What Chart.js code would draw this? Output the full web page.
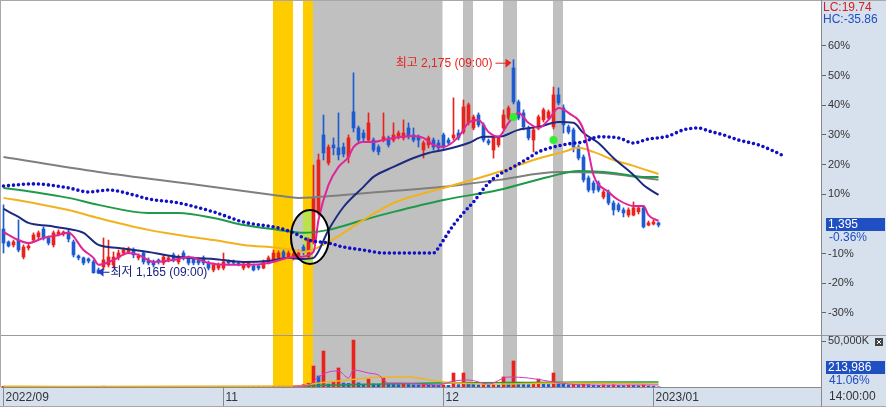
<!DOCTYPE html>
<html lang="ko">
<head>
<meta charset="UTF-8">
<title>일봉 차트</title>
<script src="https://cdn.jsdelivr.net/npm/chart.js"></script>
<style>
  html, body { margin: 0; padding: 0; background: #fff; }
  #wrap { width: 886px; height: 407px; }
</style>
</head>
<body>
<div id="wrap"><canvas id="chart" width="886" height="407"></canvas></div>
<script>
// ---- data (prices in KRW, volume in thousand shares) ----
const basePrice = 1400;
const openP  = [1376,1315,1301,1324,1244,1287,1324,1339,1376,1334,1301,1353,1353,1362,1315,1249,1240,1235,1221,1183,1197,1207,1207,1240,1263,1268,1277,1240,1263,1230,1221,1230,1216,1230,1254,1221,1263,1240,1235,1235,1240,1216,1183,1192,1192,1225,1221,1216,1192,1197,1202,1202,1192,1221,1230,1240,1268,1244,1240,1249,1291,1244,1315,1452,1820,1688,1773,1759,1763,1716,1929,1853,1829,1796,1796,1763,1796,1806,1796,1811,1806,1853,1820,1811,1749,1773,1796,1782,1820,1796,1806,1829,1834,1877,1853,1914,1867,1792,1749,1773,1853,1900,2136,1976,1924,1853,1796,1853,1891,1900,1858,2009,1947,1858,1844,1763,1716,1617,1593,1593,1527,1551,1499,1490,1466,1442,1442,1457,1476,1395,1400,1405];
const highP  = [1490,1320,1324,1419,1301,1305,1358,1367,1386,1343,1367,1372,1367,1372,1324,1254,1244,1240,1230,1192,1334,1324,1268,1277,1287,1291,1287,1259,1273,1240,1230,1235,1254,1249,1263,1254,1273,1249,1244,1240,1249,1225,1216,1216,1263,1230,1230,1221,1221,1221,1211,1207,1230,1249,1277,1273,1277,1273,1268,1277,1301,1334,1678,1730,1914,1773,1806,1924,1782,1820,2113,1862,1844,1924,1806,1773,1924,1815,1877,1839,1891,1877,1853,1820,1792,1815,1806,1796,1829,1806,1995,1844,1985,1971,1914,1924,1877,1801,1815,1815,1938,1957,2175,1985,1938,1862,1853,1914,1947,1938,2046,2042,1962,1867,1853,1773,1726,1627,1603,1603,1560,1560,1509,1499,1476,1476,1504,1485,1485,1414,1419,1409];
const lowP   = [1263,1291,1291,1268,1235,1277,1315,1329,1324,1301,1291,1343,1343,1315,1244,1230,1207,1216,1167,1165,1183,1197,1192,1230,1254,1259,1240,1230,1211,1207,1197,1211,1207,1221,1221,1211,1230,1207,1207,1207,1207,1183,1174,1183,1183,1207,1207,1202,1183,1192,1178,1183,1188,1211,1221,1230,1235,1240,1230,1240,1254,1240,1305,1442,1702,1678,1726,1702,1716,1688,1834,1787,1787,1787,1740,1726,1787,1763,1787,1801,1796,1801,1787,1763,1711,1759,1749,1749,1754,1773,1796,1796,1825,1867,1844,1858,1787,1773,1711,1763,1844,1891,1966,1891,1844,1796,1740,1844,1881,1891,1848,1962,1829,1825,1740,1702,1598,1551,1546,1551,1518,1490,1442,1457,1433,1433,1438,1447,1381,1391,1395,1386];
const closeP = [1310,1296,1315,1277,1291,1296,1348,1358,1334,1310,1358,1362,1362,1329,1254,1240,1216,1225,1170,1168,1230,1244,1244,1263,1277,1282,1254,1249,1221,1216,1207,1221,1244,1240,1230,1244,1240,1216,1216,1216,1216,1192,1207,1207,1221,1216,1216,1211,1211,1216,1183,1192,1221,1240,1263,1263,1244,1263,1258,1263,1268,1324,1527,1702,1735,1763,1759,1726,1730,1806,1853,1796,1806,1877,1749,1740,1811,1773,1820,1829,1829,1811,1796,1796,1782,1806,1763,1759,1763,1782,1820,1806,1952,1962,1905,1867,1796,1782,1806,1806,1914,1947,1976,1900,1858,1806,1844,1905,1938,1929,2009,1971,1867,1834,1763,1711,1608,1560,1560,1560,1551,1499,1466,1466,1452,1466,1476,1476,1386,1405,1409,1395];
const lastVolume = 213986;
const volK = [820,640,510,700,560,430,620,480,390,450,560,380,340,410,690,520,470,380,760,640,880,720,540,460,420,380,450,360,480,390,350,310,420,360,380,400,330,350,300,320,340,410,380,360,470,300,280,260,330,290,340,300,360,420,650,580,520,610,1200,1500,2600,4100,22800,12000,39100,3200,5400,20700,4300,3900,51000,4500,3100,8700,3300,2900,9800,3400,2800,2600,3000,2700,2400,2200,2600,2300,2100,1900,2000,1800,15200,2600,15200,4200,3100,2500,2800,2000,2600,2100,10900,3600,28300,5200,3300,2700,3600,8700,3100,2800,15200,4800,3900,2500,3000,2200,3400,2600,2000,1800,2300,1900,2400,1700,1600,2000,1800,1500,2200,1200,900,lastVolume / 1000];

// moving averages (index, price)
const ma5Idx = [0,3,5,8,11,13,16,18,19,22,25,27,30,34,37,41,45,49,53,57,59,62,63,65,67,69,70,72,74,76,78,82,84,86,88,91,93,95,97,99,101,103,105,107,109,111,113,116,117,118,121,123,126,128,129,131];
const ma5Val = [1362,1324,1310,1334,1348,1358,1277,1240,1207,1230,1263,1254,1221,1230,1244,1216,1207,1207,1216,1240,1244,1268,1419,1584,1669,1716,1763,1787,1787,1796,1806,1815,1806,1773,1763,1811,1877,1891,1834,1811,1877,1924,1877,1853,1891,1947,1924,1844,1740,1631,1551,1513,1485,1485,1442,1414];
const ma20Idx = [0,3,5,9,13,16,19,23,26,29,35,42,48,53,57,60,62,65,68,72,74,78,82,85,88,93,96,99,103,107,111,114,116,119,122,126,128,131];
const ma20Val = [1471,1433,1405,1391,1376,1358,1301,1287,1277,1268,1244,1235,1221,1225,1240,1235,1240,1372,1480,1575,1622,1669,1711,1735,1749,1782,1811,1811,1844,1858,1881,1877,1829,1782,1711,1631,1584,1537];
const ma60Idx = [0,6,13,19,29,35,42,48,55,58,60,65,72,78,85,88,99,106,108,112,115,118,122,126,131];
const ma60Val = [1523,1499,1466,1428,1372,1348,1324,1301,1287,1277,1268,1315,1419,1499,1551,1570,1645,1702,1716,1740,1759,1740,1702,1674,1636];
const ma120Idx = [0,6,13,19,29,35,42,48,55,60,65,72,78,88,99,109,115,122,128,131];
const ma120Val = [1570,1551,1523,1490,1452,1452,1428,1395,1372,1358,1372,1419,1457,1513,1560,1622,1650,1641,1622,1622];
const ma240Idx = [0,19,39,54,59,68,75,88,99,111,119,131];
const ma240Val = [1716,1645,1584,1537,1523,1537,1551,1575,1608,1645,1641,1608];
const spanIdx = [0,6,13,17,21,26,29,35,42,48,55,58,61,65,68,72,76,80,86,87,88,90,92,94,97,99,102,105,107,110,113,116,119,123,126,129,131,133,136,139,141,144,147,151,154,156];
const spanVal = [1579,1589,1570,1551,1560,1537,1518,1499,1457,1409,1381,1358,1324,1310,1291,1277,1263,1263,1263,1287,1324,1395,1452,1504,1593,1631,1669,1711,1740,1763,1778,1787,1811,1806,1782,1801,1806,1815,1844,1853,1839,1820,1796,1773,1744,1721];
const signalIdx = [102,110];
const signalVal = [1905,1796];

// volume moving averages (index, thousand shares)
const vma5Idx = [58,61,63,65,67,69,70,73,75,77,79,87,90,93,97,101,105,110,113,119,131];
const vma5Val = [800,2174,10870,16300,17390,9780,18480,15220,13040,4350,4350,2174,6520,7610,3260,10870,9780,5435,3260,2174,2174];
const vma20Idx = [0,12,59,63,69,76,81,88,99,111,131];
const vma20Val = [700,650,1087,4350,7610,10870,10870,5435,3260,4350,3260];
const vma60Idx = [59,66,86,119,131];
const vma60Val = [1087,2174,4350,5435,5435];

// axis ticks and labels
const pctTicks = [60,50,40,30,20,10,-10,-20,-30];
const volTicks = [50000];
const monthIdx = [0,44,88,130];
const monthText = ['2022/09','11','12','2023/01'];
const nSlots = 164;

// shaded periods (category index range)
const bandFrom  = [53.9, 59.9, 61.9, 91.9, 99.9, 109.9];
const bandTo    = [57.9, 61.9, 87.8, 93.9, 102.7, 111.9];
const bandColor = ['#ffcc00', '#ffcc00', '#c0c0c0', '#c0c0c0', '#c0c0c0', '#c0c0c0'];
const markIdx = 61.3, markPrice = 1339;

const RED = '#e8231e', BLUE = '#1f5bd0', AXIS_BG = '#d7e1ee';
const fmt = v => Math.round(v).toLocaleString('en-US');

function sparse(idx, vals) {
    const a = new Array(nSlots).fill(null);
    idx.forEach((k, j) => { a[k] = vals[j]; });
    return a;
}
function maLine(idx, vals, color, axis, width) {
    return {
        type: 'line', data: sparse(idx, vals), yAxisID: axis,
        borderColor: color, borderWidth: width, pointRadius: 0,
        spanGaps: true, cubicInterpolationMode: 'monotone', order: 2
    };
}
// no label padding bleeding into the plot edges
function fixAxis(s, w) {
    s.width = w;
    s.paddingTop = 0; s.paddingBottom = 0;
}

const labels = Array.from({length: nSlots}, (_, i) => String(i));
const isUp = i => closeP[i] >= openP[i];
const candleColor = ctx => isUp(ctx.dataIndex) ? RED : BLUE;
const volColor = ctx => {
    const i = ctx.dataIndex;
    return (i === 0 || volK[i] >= volK[i - 1]) ? RED : BLUE;
};

const hiVal = Math.max(...highP), hiIdx = highP.indexOf(hiVal);
const loVal = Math.min(...lowP), loIdx = lowP.indexOf(loVal);
const lastClose = closeP[closeP.length - 1];

// shading, marker ellipse, notes and axis extras
const decor = {
    id: 'decor',
    beforeDraw(chart) {
        const {ctx, chartArea: a, width, height} = chart;
        ctx.save();
        ctx.fillStyle = '#fff';
        ctx.fillRect(0, 0, width, height);
        ctx.fillStyle = AXIS_BG;
        ctx.fillRect(a.right, 0, width - a.right, height);
        ctx.fillRect(0, a.bottom, width, height - a.bottom);
        ctx.restore();
    },
    beforeDatasetsDraw(chart) {
        const {ctx, chartArea: a, scales: {x, y}} = chart;
        ctx.save();
        ctx.beginPath();
        ctx.rect(a.left, a.top, a.right - a.left, a.bottom - a.top);
        ctx.clip();
        bandFrom.forEach((s, k) => {
            const x0 = x.getPixelForValue(s), x1 = x.getPixelForValue(bandTo[k]);
            ctx.fillStyle = bandColor[k];
            ctx.fillRect(x0, a.top, x1 - x0, a.bottom - a.top);
        });
        // inside of the marker ellipse is drawn inverted
        const cx = x.getPixelForValue(markIdx), cy = y.getPixelForValue(markPrice);
        const bx0 = x.getPixelForValue(bandFrom[1]), bx1 = x.getPixelForValue(bandTo[1]);
        ctx.beginPath();
        ctx.ellipse(cx, cy, 19, 27, 0, 0, Math.PI * 2);
        ctx.clip();
        ctx.fillStyle = '#c8c8c8';
        ctx.fillRect(cx - 20, cy - 28, bx0 - cx + 20, 56);
        ctx.fillStyle = '#b9e24c';
        ctx.fillRect(bx0, cy - 28, bx1 - bx0, 56);
        ctx.fillStyle = '#fff';
        ctx.fillRect(bx1, cy - 28, cx + 20 - bx1, 56);
        ctx.restore();
    },
    afterDatasetsDraw(chart) {
        const {ctx, scales: {x, y}} = chart;
        ctx.save();
        const cx = x.getPixelForValue(markIdx), cy = y.getPixelForValue(markPrice);
        ctx.strokeStyle = '#000';
        ctx.lineWidth = 2;
        ctx.beginPath();
        ctx.ellipse(cx, cy, 19, 27, 0, 0, Math.PI * 2);
        ctx.stroke();

        ctx.font = "12px 'Liberation Sans', 'Noto Sans CJK KR', sans-serif";
        ctx.textBaseline = 'middle';
        // highest
        let ax = x.getPixelForValue(hiIdx), ay = y.getPixelForValue(hiVal) + 3;
        ctx.fillStyle = RED; ctx.strokeStyle = RED; ctx.lineWidth = 1;
        ctx.textAlign = 'right';
        ctx.fillText('최고 ' + fmt(hiVal) + ' (09:00)', ax - 21, ay + 1);
        ctx.beginPath(); ctx.moveTo(ax - 18, ay + 0.5); ctx.lineTo(ax - 6, ay + 0.5); ctx.stroke();
        ctx.beginPath(); ctx.moveTo(ax - 2, ay); ctx.lineTo(ax - 8, ay - 4); ctx.lineTo(ax - 8, ay + 5); ctx.closePath(); ctx.fill();
        // lowest
        ax = x.getPixelForValue(loIdx) - 1; ay = y.getPixelForValue(loVal) - 2;
        ctx.fillStyle = '#1a2280'; ctx.strokeStyle = '#1a2280';
        ctx.textAlign = 'left';
        ctx.fillText('최저 ' + fmt(loVal) + ' (09:00)', ax + 13, ay + 1);
        ctx.beginPath(); ctx.moveTo(ax + 4, ay + 0.5); ctx.lineTo(ax + 12, ay + 0.5); ctx.stroke();
        ctx.fillStyle = '#1f3fc8';
        ctx.beginPath(); ctx.moveTo(ax, ay); ctx.lineTo(ax + 6, ay - 4); ctx.lineTo(ax + 6, ay + 5); ctx.closePath(); ctx.fill();
        ctx.restore();
    },
    afterDraw(chart) {
        const {ctx, chartArea: a, width, height, scales: {y, yVol}} = chart;
        ctx.save();
        ctx.strokeStyle = '#9a9a9a';
        ctx.lineWidth = 1;
        const sy = Math.round(yVol.top) + 0.5;
        ctx.beginPath(); ctx.moveTo(0, sy); ctx.lineTo(width, sy); ctx.stroke();
        ctx.strokeStyle = '#a8a8a8';
        ctx.beginPath(); ctx.moveTo(0.5, 0); ctx.lineTo(0.5, a.bottom); ctx.moveTo(0, 0.5); ctx.lineTo(width, 0.5);
        ctx.moveTo(0, height - 0.5); ctx.lineTo(width, height - 0.5); ctx.stroke();
        ctx.strokeStyle = '#8a8a8a';
        ctx.beginPath(); ctx.moveTo(Math.round(a.right) + 0.5, 0); ctx.lineTo(Math.round(a.right) + 0.5, height); ctx.stroke();

        const lx = a.right + 2;
        ctx.font = "12px 'Liberation Sans', sans-serif";
        ctx.textBaseline = 'middle';
        ctx.textAlign = 'left';
        ctx.fillStyle = '#d42020';
        ctx.fillText('LC:' + ((lastClose / loVal - 1) * 100).toFixed(2), lx, 8);
        ctx.fillStyle = '#1f4fc0';
        ctx.fillText('HC:' + ((lastClose / hiVal - 1) * 100).toFixed(2), lx, 20);

        // last price badge
        const py = Math.round(y.getPixelForValue(lastClose));
        ctx.fillStyle = '#1f4fc0';
        ctx.fillRect(a.right + 5, py - 7, 59, 13);
        ctx.fillStyle = '#fff';
        ctx.fillText(fmt(lastClose), a.right + 7, py);
        ctx.fillStyle = '#1f4fc0';
        ctx.fillText(((lastClose / basePrice - 1) * 100).toFixed(2) + '%', a.right + 8, py + 13);

        // volume badge
        const vy = Math.round(yVol.bottom) - 19;
        ctx.fillStyle = '#1f4fc0';
        ctx.fillRect(a.right + 5, vy - 7, 59, 13);
        ctx.fillStyle = '#fff';
        ctx.fillText(fmt(lastVolume), a.right + 7, vy);
        ctx.fillStyle = '#1f4fc0';
        ctx.fillText('41.06%', a.right + 8, vy + 13);

        // small close icon
        const iy = Math.round(yVol.getPixelForValue(volTicks[0]));
        ctx.fillStyle = '#444';
        ctx.fillRect(width - 11, iy - 3, 8, 8);
        ctx.strokeStyle = '#fff';
        ctx.beginPath(); ctx.moveTo(width - 9, iy - 1); ctx.lineTo(width - 5, iy + 3); ctx.moveTo(width - 5, iy - 1); ctx.lineTo(width - 9, iy + 3); ctx.stroke();

        ctx.fillStyle = '#333';
        ctx.fillText('14:00:00', a.right + 8, a.bottom + 10);
        ctx.restore();
    }
};

Chart.defaults.font.family = "'Liberation Sans', 'Noto Sans CJK KR', sans-serif";

new Chart(document.getElementById('chart'), {
    data: {
        labels: labels,
        datasets: [
            maLine(ma5Idx, ma5Val, '#e0249a', 'y', 2),
            maLine(ma20Idx, ma20Val, '#1c2a80', 'y', 2),
            maLine(ma60Idx, ma60Val, '#f2b21e', 'y', 2),
            maLine(ma120Idx, ma120Val, '#1f9a48', 'y', 2),
            maLine(ma240Idx, ma240Val, '#7f7f7f', 'y', 2),
            {
                type: 'line', data: sparse(spanIdx, spanVal), yAxisID: 'y',
                borderColor: '#1010c4', borderWidth: 3.6, borderDash: [0, 5], borderCapStyle: 'round',
                pointRadius: 0, spanGaps: true, cubicInterpolationMode: 'monotone', order: 1
            },
            {
                type: 'line', data: sparse(signalIdx, signalVal), yAxisID: 'y', showLine: false,
                pointRadius: 4, pointBackgroundColor: '#33ee33', pointBorderWidth: 0, order: 0
            },
            {
                type: 'bar', data: lowP.map((l, i) => [l, highP[i]]), yAxisID: 'y',
                backgroundColor: candleColor, barThickness: 1, grouped: false, order: 4
            },
            {
                type: 'bar', data: openP.map((o, i) => [Math.min(o, closeP[i]), Math.max(o, closeP[i])]), yAxisID: 'y',
                backgroundColor: candleColor, barThickness: 3, minBarLength: 1, grouped: false, order: 3
            },
            {
                type: 'bar', data: volK, yAxisID: 'yVol',
                backgroundColor: volColor, barThickness: 3, grouped: false, order: 5
            },
            maLine(vma5Idx, vma5Val, '#d63ac0', 'yVol', 1),
            maLine(vma20Idx, vma20Val, '#f2b21e', 'yVol', 1.5),
            maLine(vma60Idx, vma60Val, '#1f9a48', 'yVol', 1.5)
        ]
    },
    options: {
        responsive: false,
        animation: false,
        devicePixelRatio: 1,
        layout: { autoPadding: false, padding: { top: 1, left: 1, right: 0, bottom: 0 } },
        plugins: { legend: { display: false }, tooltip: { enabled: false } },
        scales: {
            x: {
                type: 'category',
                offset: true,
                grid: {
                    drawOnChartArea: false, offset: false, tickLength: 20,
                    color: ctx => monthIdx.includes(ctx.index) ? '#8a8a8a' : 'rgba(0,0,0,0)'
                },
                border: { display: true, color: '#8a8a8a' },
                ticks: {
                    autoSkip: false, maxRotation: 0, align: 'start', labelOffset: 2, padding: -17,
                    color: '#333', font: { size: 12 },
                    callback: (v, i) => { const k = monthIdx.indexOf(i); return k >= 0 ? monthText[k] : ''; }
                },
                afterFit: s => { s.height = 20; s.paddingLeft = 0; s.paddingRight = 0; }
            },
            y: {
                position: 'right', stack: 'pane', stackWeight: 334,
                min: 876, max: 2452,
                grid: { drawOnChartArea: false, tickLength: 5, color: '#666' },
                border: { display: true, color: '#8a8a8a' },
                afterBuildTicks: s => { s.ticks = pctTicks.map(p => ({ value: basePrice * (1 + p / 100) })); },
                ticks: {
                    autoSkip: false, padding: 2, color: '#333', font: { size: 11 },
                    callback: v => Math.round((v / basePrice - 1) * 100) + '%'
                },
                afterFit: s => fixAxis(s, 65)
            },
            yVol: {
                position: 'right', stack: 'pane', stackWeight: 52,
                min: 0, max: 56522,
                grid: { drawOnChartArea: false, tickLength: 5, color: '#666' },
                border: { display: true, color: '#8a8a8a' },
                afterBuildTicks: s => { s.ticks = volTicks.map(v => ({ value: v })); },
                ticks: {
                    autoSkip: false, padding: 2, color: '#333', font: { size: 11 },
                    callback: v => fmt(v) + 'K'
                },
                afterFit: s => fixAxis(s, 65)
            }
        }
    },
    plugins: [decor]
});
</script>
</body>
</html>
